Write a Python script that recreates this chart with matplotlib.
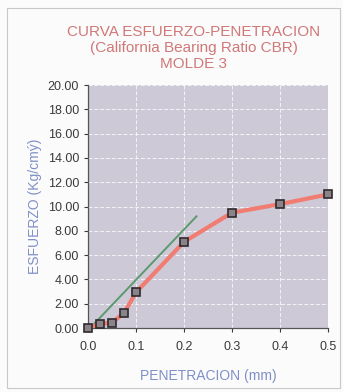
import numpy as np
import matplotlib
matplotlib.use('Agg')
import matplotlib.pyplot as plt
from matplotlib.patches import Rectangle

# penetracion (mm) vs esfuerzo (Kg/cm2), molde 3
penetracion = [0.0, 0.025, 0.05, 0.075, 0.1, 0.2, 0.3, 0.4, 0.5]
esfuerzo = [0.0, 0.35, 0.45, 1.25, 2.95, 7.1, 9.5, 10.2, 11.0]

# tangente de correccion
tang_x = [0.004, 0.226]
tang_y = [0.0, 9.2]

x_ticks = [0.0, 0.1, 0.2, 0.3, 0.4, 0.5]
y_ticks = [0, 2, 4, 6, 8, 10, 12, 14, 16, 18, 20]

plt.rcParams['font.family'] = ['Liberation Sans', 'DejaVu Sans']

fig = plt.figure(figsize=(3.43, 3.92), dpi=100)
fig.patch.set_facecolor('#fbfbfb')
fig.patches.append(Rectangle((0.02, 0.01), 0.97, 0.97, transform=fig.transFigure,
                             fill=False, ec='#c8c8c8', lw=0.8))

ax = fig.add_axes([0.257, 0.163, 0.699, 0.62])
ax.set_facecolor('#cdc9d6')

ax.plot(tang_x, tang_y, color='#5c9a6e', lw=1.4, zorder=3)
ax.plot(penetracion, esfuerzo, color='#f07c72', lw=3, zorder=4)
ax.plot(penetracion, esfuerzo, 's', ms=5.5, mfc='#8a8488', mec='#2e2a2e', mew=1.2,
        zorder=5, clip_on=False)

ax.set_xlim(0, 0.5)
ax.set_ylim(0, 20)
ax.set_xticks(x_ticks)
ax.set_yticks(y_ticks)
ax.set_xticklabels(['%.1f' % v for v in x_ticks])
ax.set_yticklabels(['%.2f' % v for v in y_ticks])
ax.tick_params(labelsize=9, colors='#3a3a3a', length=3, width=0.8)
ax.tick_params(axis='x', pad=6)

ax.grid(True, color='#f4f4f8', ls=(0, (4, 2)), lw=0.7)
ax.set_axisbelow(True)
for s in ['top', 'right']:
    ax.spines[s].set_visible(False)
for s in ['left', 'bottom']:
    ax.spines[s].set_color('#555555')
    ax.spines[s].set_linewidth(0.9)

ax.set_xlabel('PENETRACION (mm)', fontsize=10, color='#8090c8', labelpad=12)
ax.set_ylabel('ESFUERZO (Kg/cmý)', fontsize=10, color='#8090c8', labelpad=4)

fig.text(0.565, 0.918, 'CURVA ESFUERZO-PENETRACION', ha='center', va='center',
         fontsize=11, color='#d07878')
fig.text(0.565, 0.878, '(California Bearing Ratio CBR)', ha='center', va='center',
         fontsize=11, color='#d07878')
fig.text(0.565, 0.838, 'MOLDE 3', ha='center', va='center',
         fontsize=11, color='#d07878')

fig.savefig('out.png', dpi=100)
